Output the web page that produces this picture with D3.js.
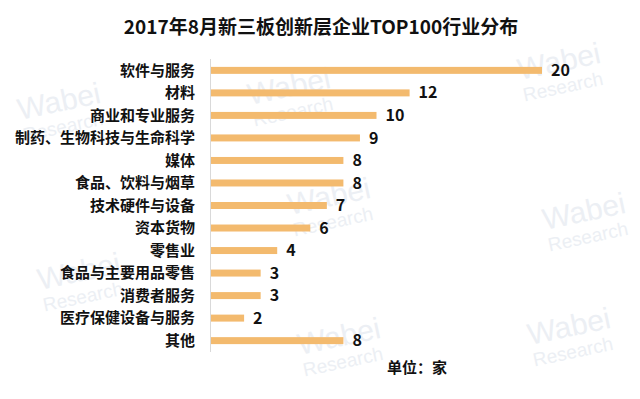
<html lang="zh">
<head>
<meta charset="utf-8">
<style>
  body { margin: 0; background: #fff; }
  .lbl { font-family: "Noto Sans CJK SC", "Microsoft YaHei", sans-serif; }
  .wm text { font-family: "Liberation Sans", Arial, sans-serif; }
</style>
</head>
<body>
<div id="chart"></div>
<script src="https://cdnjs.cloudflare.com/ajax/libs/d3/7.8.5/d3.min.js"></script>
<script>
// data
var categories = ["软件与服务", "材料", "商业和专业服务", "制药、生物科技与生命科学", "媒体",
    "食品、饮料与烟草", "技术硬件与设备", "资本货物", "零售业", "食品与主要用品零售",
    "消费者服务", "医疗保健设备与服务", "其他"];
var counts = [20, 12, 10, 9, 8, 8, 7, 6, 4, 3, 3, 2, 8];
var title = "2017年8月新三板创新层企业TOP100行业分布";
var unitLabel = "单位：家";

(function() {
    var width = 640, height = 399;

    var svg = d3.select("#chart").append("svg")
        .attr("width", width)
        .attr("height", height);

    // faint watermarks in the background
    var marks = [[20, 120], [250, 105], [520, 80], [40, 290], [290, 215], [545, 230], [300, 355], [530, 345]];
    var wm = svg.append("g").attr("class", "wm").attr("fill", "#eceff4");
    marks.forEach(function(p) {
        var g = wm.append("g").attr("transform", "translate(" + p[0] + "," + p[1] + ") rotate(-12)");
        g.append("text").attr("font-size", 30).text("Wabei");
        g.append("text").attr("y", 22).attr("font-size", 19).text("Research");
    });

    var x = d3.scaleLinear().domain([0, 20]).range([211, 542]);
    var y = d3.scaleBand().domain(categories).range([59, 352]).paddingInner(0.69).paddingOuter(0.35);

    svg.append("text")
        .attr("class", "lbl")
        .attr("x", 321).attr("y", 34)
        .attr("text-anchor", "middle")
        .attr("font-size", 19).attr("font-weight", "bold")
        .attr("fill", "#111")
        .text(title);

    svg.selectAll(".bar")
        .data(counts)
        .enter().append("rect")
        .attr("class", "bar")
        .attr("x", x(0))
        .attr("y", function(d, i) { return y(categories[i]); })
        .attr("width", function(d) { return x(d) - x(0); })
        .attr("height", y.bandwidth())
        .attr("fill", "#F3BA6E");

    // axis line on the left
    svg.append("line")
        .attr("x1", x(0) - 0.5).attr("x2", x(0) - 0.5)
        .attr("y1", 59).attr("y2", 352)
        .attr("stroke", "#d9d9d9");

    svg.selectAll(".cat")
        .data(categories)
        .enter().append("text")
        .attr("class", "cat lbl")
        .attr("x", 195)
        .attr("y", function(d) { return y(d) + y.bandwidth() / 2; })
        .attr("dy", "0.35em")
        .attr("text-anchor", "end")
        .attr("font-size", 15).attr("font-weight", "bold")
        .attr("fill", "#111")
        .text(function(d) { return d; });

    svg.selectAll(".val")
        .data(counts)
        .enter().append("text")
        .attr("class", "val lbl")
        .attr("x", function(d) { return x(d) + 9; })
        .attr("y", function(d, i) { return y(categories[i]) + y.bandwidth() / 2; })
        .attr("dy", "0.35em")
        .attr("font-size", 16).attr("font-weight", "bold")
        .attr("fill", "#111")
        .text(function(d) { return d; });

    svg.append("text")
        .attr("class", "lbl")
        .attr("x", 387).attr("y", 368)
        .attr("dy", "0.35em")
        .attr("font-size", 15).attr("font-weight", "bold")
        .attr("fill", "#111")
        .text(unitLabel);
})();
</script>
</body>
</html>
